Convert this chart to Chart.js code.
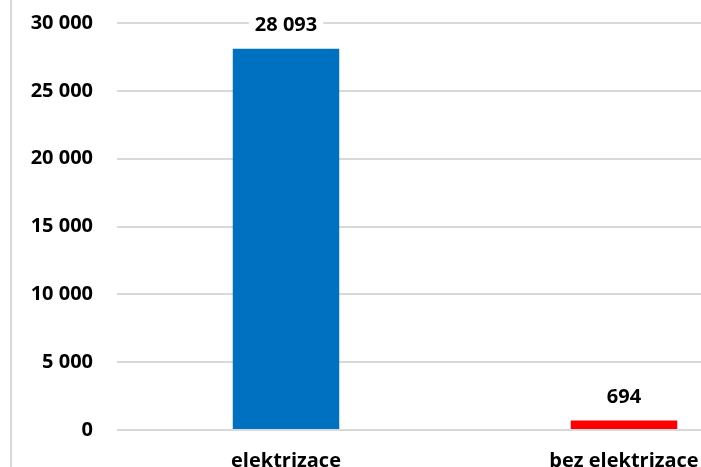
<!DOCTYPE html>
<html lang="cs">
    <head>
        <meta charset="utf-8" />
        <meta name="viewport" content="width=device-width, initial-scale=1" />
        <title>Elektrizace</title>
        <style>
            html, body { margin: 0; padding: 0; overflow: hidden; background: #fff; }
            #graf { display: block; margin-top: -13px; }
        </style>
    </head>
    <body>
        <canvas id="graf" width="820" height="493"></canvas>
        <script src="https://cdn.jsdelivr.net/npm/chart.js@4/dist/chart.umd.min.js"></script>
        <script>
            var kategorie = ["elektrizace", "bez elektrizace"];
            var hodnoty = [28093, 694];
            var barvy = ["#0070C0", "#FF0000"];
            var osaY = { min: 0, max: 30000, krok: 5000 };

            function cislo(v) {
                return String(v).replace(/\B(?=(\d{3})+(?!\d))/g, " ");
            }

            var pismo = { family: "'Open Sans', sans-serif", size: 20, weight: "bold" };

            // popisky nad sloupci (s bílým podkladem) + levá svislá linka rámečku
            var popisky = {
                id: "popisky",
                beforeDraw: function (chart) {
                    var ctx = chart.ctx;
                    ctx.save();
                    ctx.strokeStyle = "#d9d9d9";
                    ctx.lineWidth = 2;
                    ctx.beginPath();
                    ctx.moveTo(11, 0);
                    ctx.lineTo(11, chart.height);
                    ctx.stroke();
                    ctx.restore();
                },
                afterDatasetsDraw: function (chart) {
                    var ctx = chart.ctx;
                    ctx.save();
                    ctx.font = "bold 20px 'Open Sans', sans-serif";
                    ctx.textAlign = "center";
                    ctx.textBaseline = "alphabetic";
                    chart.getDatasetMeta(0).data.forEach(function (bar, i) {
                        var txt = cislo(hodnoty[i]);
                        var w = ctx.measureText(txt).width;
                        var y = bar.y - 18;
                        ctx.fillStyle = "#fff";
                        ctx.fillRect(bar.x - w / 2 - 6, y - 18, w + 12, 22);
                        ctx.fillStyle = "#000";
                        ctx.fillText(txt, bar.x, y);
                    });
                    ctx.restore();
                }
            };

            new Chart(document.getElementById("graf").getContext("2d"), {
                type: "bar",
                data: {
                    labels: kategorie,
                    datasets: [{
                        data: hodnoty,
                        backgroundColor: barvy,
                        barPercentage: 0.315,
                        categoryPercentage: 1
                    }]
                },
                options: {
                    responsive: false,
                    animation: false,
                    layout: { padding: { top: 9, right: 27, bottom: 0, left: 0 } },
                    plugins: {
                        legend: { display: false },
                        tooltip: { enabled: false }
                    },
                    scales: {
                        x: {
                            grid: { display: false },
                            border: { display: false },
                            ticks: { color: "#000", font: pismo, padding: 11, maxRotation: 0 },
                            afterFit: function (s) { s.height = 50; }
                        },
                        y: {
                            min: osaY.min,
                            max: osaY.max,
                            grid: { color: "#d9d9d9", lineWidth: 2, drawTicks: false },
                            border: { display: false },
                            ticks: {
                                stepSize: osaY.krok,
                                color: "#000",
                                font: pismo,
                                padding: 24,
                                callback: function (v) { return cislo(v); }
                            },
                            afterFit: function (s) { s.width = 117; }
                        }
                    }
                },
                plugins: [popisky]
            });
        </script>
    </body>
</html>
